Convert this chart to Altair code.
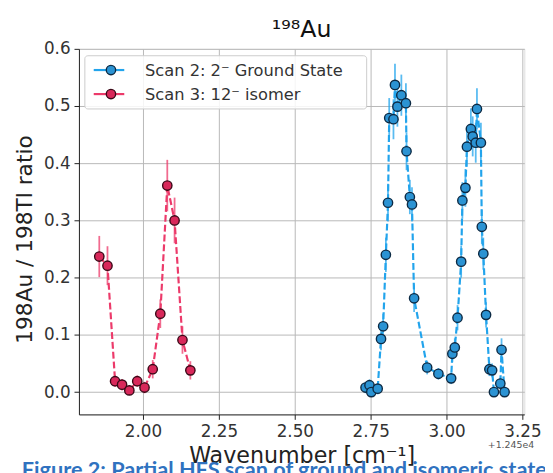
import altair as alt
import pandas as pd

series_names = ["Scan 2: 2\u207b Ground State", "Scan 3: 12\u207b isomer"]

blue_x = [2.733, 2.746, 2.752, 2.773, 2.784, 2.791, 2.800, 2.807, 2.811, 2.825,
          2.830, 2.838, 2.851, 2.866, 2.868, 2.879, 2.886, 2.893, 2.936, 2.973,
          3.015, 3.019, 3.027, 3.036, 3.048, 3.052, 3.062, 3.067, 3.080, 3.086,
          3.096, 3.100, 3.113, 3.116, 3.121, 3.130, 3.141, 3.150, 3.156, 3.177,
          3.181, 3.191]
blue_y = [0.008, 0.012, 0.000, 0.006, 0.093, 0.115, 0.240, 0.331, 0.479, 0.477,
          0.537, 0.499, 0.519, 0.505, 0.421, 0.341, 0.328, 0.164, 0.043, 0.032,
          0.024, 0.067, 0.078, 0.130, 0.228, 0.335, 0.357, 0.429, 0.460, 0.447,
          0.436, 0.495, 0.436, 0.289, 0.242, 0.135, 0.040, 0.038, 0.000, 0.015,
          0.074, 0.000]
blue_err = [0.010, 0.010, 0.008, 0.010, 0.020, 0.022, 0.030, 0.033, 0.035, 0.035,
            0.037, 0.035, 0.036, 0.035, 0.033, 0.030, 0.030, 0.024, 0.012, 0.010,
            0.010, 0.015, 0.016, 0.022, 0.028, 0.032, 0.033, 0.035, 0.036, 0.035,
            0.035, 0.036, 0.035, 0.030, 0.028, 0.022, 0.012, 0.012, 0.008, 0.010,
            0.020, 0.008]

red_x = [1.856, 1.883, 1.908, 1.931, 1.955, 1.981, 2.005, 2.032, 2.057, 2.080,
         2.104, 2.130, 2.156]
red_y = [0.237, 0.221, 0.019, 0.013, 0.003, 0.019, 0.008, 0.040, 0.137, 0.361,
         0.300, 0.091, 0.038]
red_err = [0.036, 0.034, 0.010, 0.010, 0.008, 0.010, 0.010, 0.016, 0.025, 0.045,
           0.040, 0.024, 0.016]

x_ticks = [2.00, 2.25, 2.50, 2.75, 3.00, 3.25]
y_ticks = [0.0, 0.1, 0.2, 0.3, 0.4, 0.5, 0.6]

line_colors = ["#22a4ec", "#ec3a6a"]
face_colors = ["#2b93d3", "#d8285a"]
edge_colors = ["#0c2a44", "#3a0716"]

df = pd.concat([
    pd.DataFrame({"x": blue_x, "y": blue_y, "err": blue_err, "series": series_names[0]}),
    pd.DataFrame({"x": red_x, "y": red_y, "err": red_err, "series": series_names[1]}),
], ignore_index=True)

FONT = "DejaVu Sans"
W, H = 452, 371
xscale = alt.Scale(domain=[1.789, 3.256], nice=False, zero=False)
yscale = alt.Scale(domain=[-0.039, 0.6], nice=False, zero=False)
line_col = alt.Color("series:N", scale=alt.Scale(domain=series_names, range=line_colors), legend=None)
face_col = alt.Fill("series:N", scale=alt.Scale(domain=series_names, range=face_colors), legend=None)
edge_col = alt.Stroke("series:N", scale=alt.Scale(domain=series_names, range=edge_colors), legend=None)

base = alt.Chart(df)

xaxis = alt.Axis(
    values=x_ticks, format=".2f", title="Wavenumber [cm\u207b\u00b9]",
    titleFontSize=22.5, titleFontWeight="normal", titleFont=FONT, titleColor="#222",
    titleY=49, titleBaseline="alphabetic",
    labelFontSize=17, labelFont=FONT, labelColor="#333", labelPadding=4,
    grid=True, gridColor="#b8b8b8", gridWidth=1,
    domainColor="#222", tickColor="#222", tickSize=5)
yaxis = alt.Axis(
    values=y_ticks, format=".1f", title="198Au / 198Tl ratio",
    titleFontSize=22, titleFontWeight="normal", titleFont=FONT, titleColor="#222",
    titleX=-48, titleY=193, titleBaseline="alphabetic", titleAngle=270,
    labelFontSize=17, labelFont=FONT, labelColor="#333", labelPadding=4,
    grid=True, gridColor="#b8b8b8", gridWidth=1,
    domainColor="#222", tickColor="#222", tickSize=5)

errbars = base.transform_calculate(
    lo="datum.y - datum.err", hi="datum.y + datum.err"
).mark_rule(strokeWidth=1.8, opacity=0.75).encode(
    x=alt.X("x:Q", scale=xscale, axis=xaxis),
    y=alt.Y("lo:Q", scale=yscale, axis=yaxis),
    y2="hi:Q", color=line_col)

lines = base.mark_line(strokeDash=[7, 3], strokeWidth=2.2).encode(
    x="x:Q", y="y:Q", color=line_col, detail="series:N", order="x:Q")

points = base.mark_point(shape="circle", filled=False, size=90, strokeWidth=1.4, opacity=1).encode(
    x="x:Q", y="y:Q", fill=face_col, stroke=edge_col)

one = pd.DataFrame({"k": [0]})
legend_layers = [
    alt.Chart(one).mark_rect(fill="white", fillOpacity=0.85, stroke="#cccccc", strokeWidth=1,
                             cornerRadius=3).encode(
        x=alt.value(6), x2=alt.value(292), y=alt.value(7), y2=alt.value(61))
]
for i, name in enumerate(series_names):
    row_y = 21.5 + 24.4 * i
    ldf = pd.DataFrame({"label": [name]})
    legend_layers.append(alt.Chart(ldf).mark_rule(strokeWidth=2.2, color=line_colors[i]).encode(
        x=alt.value(15), x2=alt.value(46), y=alt.value(row_y)))
    legend_layers.append(alt.Chart(ldf).mark_point(shape="circle", size=90, strokeWidth=1.4,
                                                  fill=face_colors[i], stroke=edge_colors[i],
                                                  opacity=1).encode(
        x=alt.value(32.5), y=alt.value(row_y)))
    legend_layers.append(alt.Chart(ldf).mark_text(align="left", baseline="middle", font=FONT,
                                                 fontSize=16.5, color="#333").encode(
        x=alt.value(67), y=alt.value(row_y + 1), text="label:N"))

title_layer = alt.Chart(pd.DataFrame({"t": ["\u00b9\u2079\u2078Au"]})).mark_text(
    font=FONT, fontSize=24, align="center", baseline="alphabetic", color="#111").encode(
    x=alt.value(W / 2), y=alt.value(-12), text="t:N")
offset_layer = alt.Chart(pd.DataFrame({"t": ["+1.245e4"]})).mark_text(
    font=FONT, fontSize=9.5, align="right", baseline="alphabetic", color="#555").encode(
    x=alt.value(462), y=alt.value(405), text="t:N")
caption_layer = alt.Chart(pd.DataFrame({"t": ["Figure 2: Partial HFS scan of ground and isomeric states"]})).mark_text(
    font="Lato", fontSize=22, fontWeight="bold", align="left", baseline="alphabetic",
    color="#2f72c0").encode(
    x=alt.value(-58), y=alt.value(434.5), text="t:N")

chart = alt.layer(errbars, lines, points, *legend_layers, title_layer, offset_layer,
                  caption_layer).properties(
    width=W, height=H,
    autosize=alt.AutoSizeParams(type="none"),
    padding={"left": 72, "top": 38, "right": 21, "bottom": 56},
).configure_view(stroke="#222", strokeWidth=1).configure(background="white")

chart.save("out.html", embed_options={"renderer": "svg", "actions": False})
